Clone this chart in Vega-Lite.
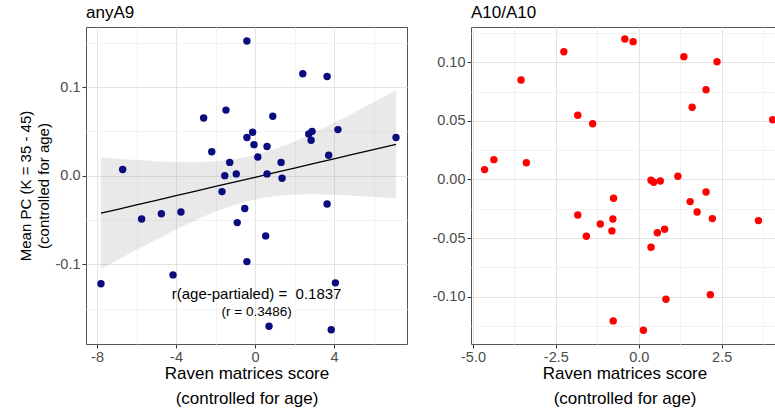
{
  "$schema": "https://vega.github.io/schema/vega-lite/v6.json",
  "padding": {"left": 17, "top": 3, "right": 0, "bottom": 0},
  "background": "white",
  "config": {
    "font": "Liberation Sans",
    "view": {"stroke": "#555555", "strokeWidth": 1},
    "concat": {"spacing": 23},
    "axis": {
      "labelFont": "Liberation Sans",
      "labelFontSize": 14.5,
      "labelColor": "#4d4d4d",
      "labelPadding": 2,
      "titleFont": "Liberation Sans",
      "titleFontWeight": "normal",
      "titleColor": "#000000",
      "tickColor": "#333333",
      "tickSize": 4,
      "domain": false,
      "grid": true
    },
    "axisX": {"titleFontSize": 17, "titleLineHeight": 25, "titlePadding": 2},
    "axisY": {"titleFontSize": 15, "titleLineHeight": 18, "titlePadding": 4},
    "title": {"font": "Liberation Sans", "fontSize": 17, "fontWeight": "normal", "anchor": "start", "frame": "group", "color": "#000000", "offset": 5}
  },
  "datasets": {
    "a9": [
      {"x": -0.41, "y": 0.152}, {"x": 2.42, "y": 0.115}, {"x": 3.65, "y": 0.112},
      {"x": -1.47, "y": 0.074}, {"x": -2.60, "y": 0.065}, {"x": 0.90, "y": 0.067},
      {"x": -0.12, "y": 0.049}, {"x": -0.41, "y": 0.043}, {"x": 2.72, "y": 0.047},
      {"x": 2.89, "y": 0.050}, {"x": 4.20, "y": 0.052}, {"x": 7.14, "y": 0.043},
      {"x": -0.05, "y": 0.035}, {"x": 0.61, "y": 0.033}, {"x": 2.84, "y": 0.040},
      {"x": -2.19, "y": 0.027}, {"x": 0.14, "y": 0.021}, {"x": 3.73, "y": 0.023},
      {"x": -1.28, "y": 0.015}, {"x": 1.32, "y": 0.015}, {"x": -6.70, "y": 0.007},
      {"x": -1.53, "y": 0.000}, {"x": -0.95, "y": 0.002}, {"x": 0.61, "y": 0.002},
      {"x": 1.37, "y": -0.003}, {"x": -1.67, "y": -0.018}, {"x": -5.74, "y": -0.049},
      {"x": -4.74, "y": -0.043}, {"x": -3.75, "y": -0.041}, {"x": -0.52, "y": -0.037},
      {"x": 3.65, "y": -0.032}, {"x": -0.90, "y": -0.053}, {"x": 0.54, "y": -0.068},
      {"x": -0.41, "y": -0.097}, {"x": -4.15, "y": -0.112}, {"x": -7.80, "y": -0.122},
      {"x": 4.07, "y": -0.121}, {"x": 0.71, "y": -0.170}, {"x": 3.86, "y": -0.174}
    ],
    "a9band": [
      {"x": -7.8, "fit": -0.0424, "lo": -0.1054, "hi": 0.0206},
      {"x": -7, "fit": -0.0382, "lo": -0.0956, "hi": 0.0192},
      {"x": -6, "fit": -0.0330, "lo": -0.0837, "hi": 0.0177},
      {"x": -5, "fit": -0.0278, "lo": -0.0720, "hi": 0.0164},
      {"x": -4, "fit": -0.0226, "lo": -0.0608, "hi": 0.0156},
      {"x": -3, "fit": -0.0174, "lo": -0.0502, "hi": 0.0154},
      {"x": -2, "fit": -0.0122, "lo": -0.0407, "hi": 0.0163},
      {"x": -1, "fit": -0.0070, "lo": -0.0327, "hi": 0.0187},
      {"x": 0, "fit": -0.0018, "lo": -0.0268, "hi": 0.0232},
      {"x": 1, "fit": 0.0034, "lo": -0.0232, "hi": 0.0300},
      {"x": 2, "fit": 0.0086, "lo": -0.0215, "hi": 0.0387},
      {"x": 3, "fit": 0.0138, "lo": -0.0211, "hi": 0.0487},
      {"x": 4, "fit": 0.0190, "lo": -0.0216, "hi": 0.0596},
      {"x": 5, "fit": 0.0242, "lo": -0.0226, "hi": 0.0710},
      {"x": 6, "fit": 0.0294, "lo": -0.0240, "hi": 0.0828},
      {"x": 7.14, "fit": 0.0353, "lo": -0.0258, "hi": 0.0964}
    ],
    "a9text": [
      {"x": 0.08, "y": -0.1335, "label": "r(age-partialed) =\u00a0 0.1837", "part": "main"},
      {"x": 0.08, "y": -0.154, "label": "(r = 0.3486)", "part": "r"}
    ],
    "a10": [
      {"x": -0.42, "y": 0.1199}, {"x": -0.17, "y": 0.1176}, {"x": -2.26, "y": 0.109},
      {"x": 1.36, "y": 0.1048}, {"x": 2.36, "y": 0.1005}, {"x": -3.55, "y": 0.0849},
      {"x": 2.03, "y": 0.0766}, {"x": 1.61, "y": 0.0616}, {"x": -1.84, "y": 0.0548},
      {"x": -1.39, "y": 0.0476}, {"x": 4.04, "y": 0.0510}, {"x": -4.65, "y": 0.0084},
      {"x": -4.37, "y": 0.0169}, {"x": -3.39, "y": 0.0143}, {"x": 1.18, "y": 0.0027},
      {"x": 0.37, "y": -0.0007}, {"x": 0.45, "y": -0.0024}, {"x": 0.65, "y": -0.0013},
      {"x": 2.03, "y": -0.0107}, {"x": 1.55, "y": -0.0189}, {"x": -0.76, "y": -0.0160},
      {"x": -1.84, "y": -0.0303}, {"x": 1.76, "y": -0.0277}, {"x": 2.22, "y": -0.0334},
      {"x": 3.61, "y": -0.0351}, {"x": -1.16, "y": -0.0380}, {"x": -0.78, "y": -0.0337},
      {"x": -0.81, "y": -0.0439}, {"x": -1.58, "y": -0.0485}, {"x": 0.56, "y": -0.0454},
      {"x": 0.78, "y": -0.0425}, {"x": 0.37, "y": -0.0579}, {"x": 2.16, "y": -0.0983},
      {"x": 0.82, "y": -0.1022}, {"x": -0.77, "y": -0.1207}, {"x": 0.14, "y": -0.1287}
    ]
  },
  "hconcat": [
    {
      "width": 321,
      "height": 317,
      "title": {"text": "anyA9"},
      "encoding": {
        "x": {
          "field": "x", "type": "quantitative",
          "scale": {"domain": [-8.557, 7.696], "nice": false, "zero": false},
          "axis": {
            "title": ["Raven matrices score", "(controlled for age)"],
            "values": [-8, -6, -4, -2, 0, 2, 4, 6],
            "format": "d",
            "labelExpr": "abs(datum.value) % 4 === 0 ? replace(datum.label, '\u2212', '-') : ''",
            "gridColor": {"condition": {"test": "abs(datum.value) % 4 === 0", "value": "#e4e4e4"}, "value": "#f2f2f2"},
            "tickOpacity": {"condition": {"test": "abs(datum.value) % 4 === 0", "value": 1}, "value": 0}
          }
        }
      },
      "layer": [
        {
          "data": {"name": "a9band"},
          "mark": {"type": "area", "color": "#999999", "opacity": 0.22, "interpolate": "monotone"},
          "encoding": {
            "y": {
              "field": "lo", "type": "quantitative",
              "scale": {"domain": [-0.190, 0.1678], "nice": false, "zero": false},
              "axis": {
                "title": ["Mean PC (K = 35 - 45)", "(controlled for age)"],
                "values": [-0.15, -0.1, -0.05, 0, 0.05, 0.1, 0.15],
                "format": ".1f",
                "labelExpr": "abs(round(datum.value * 20)) % 2 === 0 ? replace(datum.label, '\u2212', '-') : ''",
                "gridColor": {"condition": {"test": "abs(round(datum.value * 20)) % 2 === 0", "value": "#e4e4e4"}, "value": "#f2f2f2"},
                "tickOpacity": {"condition": {"test": "abs(round(datum.value * 20)) % 2 === 0", "value": 1}, "value": 0}
              }
            },
            "y2": {"field": "hi"}
          }
        },
        {
          "data": {"name": "a9band"},
          "mark": {"type": "line", "color": "#000000", "strokeWidth": 1.3},
          "encoding": {
            "y": {"field": "fit", "type": "quantitative"}
          }
        },
        {
          "data": {"name": "a9"},
          "mark": {"type": "circle", "size": 55, "color": "#0b0b80", "opacity": 1},
          "encoding": {
            "y": {"field": "y", "type": "quantitative"}
          }
        },
        {
          "data": {"name": "a9text"},
          "transform": [{"filter": "datum.part === 'main'"}],
          "mark": {"type": "text", "fontSize": 15, "font": "Liberation Sans", "color": "#000000", "align": "center", "baseline": "middle"},
          "encoding": {
            "y": {"field": "y", "type": "quantitative"},
            "text": {"field": "label"}
          }
        },
        {
          "data": {"name": "a9text"},
          "transform": [{"filter": "datum.part === 'r'"}],
          "mark": {"type": "text", "fontSize": 13.5, "font": "Liberation Sans", "color": "#000000", "align": "center", "baseline": "middle"},
          "encoding": {
            "y": {"field": "y", "type": "quantitative"},
            "text": {"field": "label"}
          }
        }
      ]
    },
    {
      "width": 307,
      "height": 317,
      "title": {"text": "A10/A10"},
      "data": {"name": "a10"},
      "mark": {"type": "circle", "size": 55, "color": "#ff0000", "opacity": 1},
      "encoding": {
        "x": {
          "field": "x", "type": "quantitative",
          "scale": {"domain": [-5.06, 4.20], "nice": false, "zero": false},
          "axis": {
            "title": ["Raven matrices score", "(controlled for age)"],
            "values": [-5, -3.75, -2.5, -1.25, 0, 1.25, 2.5, 3.75],
            "format": ".1f",
            "labelExpr": "abs(round(datum.value * 0.8)) % 2 === 0 ? replace(datum.label, '\u2212', '-') : ''",
            "gridColor": {"condition": {"test": "abs(round(datum.value * 0.8)) % 2 === 0", "value": "#e4e4e4"}, "value": "#f2f2f2"},
            "tickOpacity": {"condition": {"test": "abs(round(datum.value * 0.8)) % 2 === 0", "value": 1}, "value": 0}
          }
        },
        "y": {
          "field": "y", "type": "quantitative",
          "scale": {"domain": [-0.1404, 0.1301], "nice": false, "zero": false},
          "axis": {
            "title": null,
            "values": [-0.125, -0.1, -0.075, -0.05, -0.025, 0, 0.025, 0.05, 0.075, 0.1, 0.125],
            "format": ".2f",
            "labelExpr": "abs(round(datum.value * 40)) % 2 === 0 ? replace(datum.label, '\u2212', '-') : ''",
            "gridColor": {"condition": {"test": "abs(round(datum.value * 40)) % 2 === 0", "value": "#e4e4e4"}, "value": "#f2f2f2"},
            "tickOpacity": {"condition": {"test": "abs(round(datum.value * 40)) % 2 === 0", "value": 1}, "value": 0}
          }
        }
      }
    }
  ]
}
